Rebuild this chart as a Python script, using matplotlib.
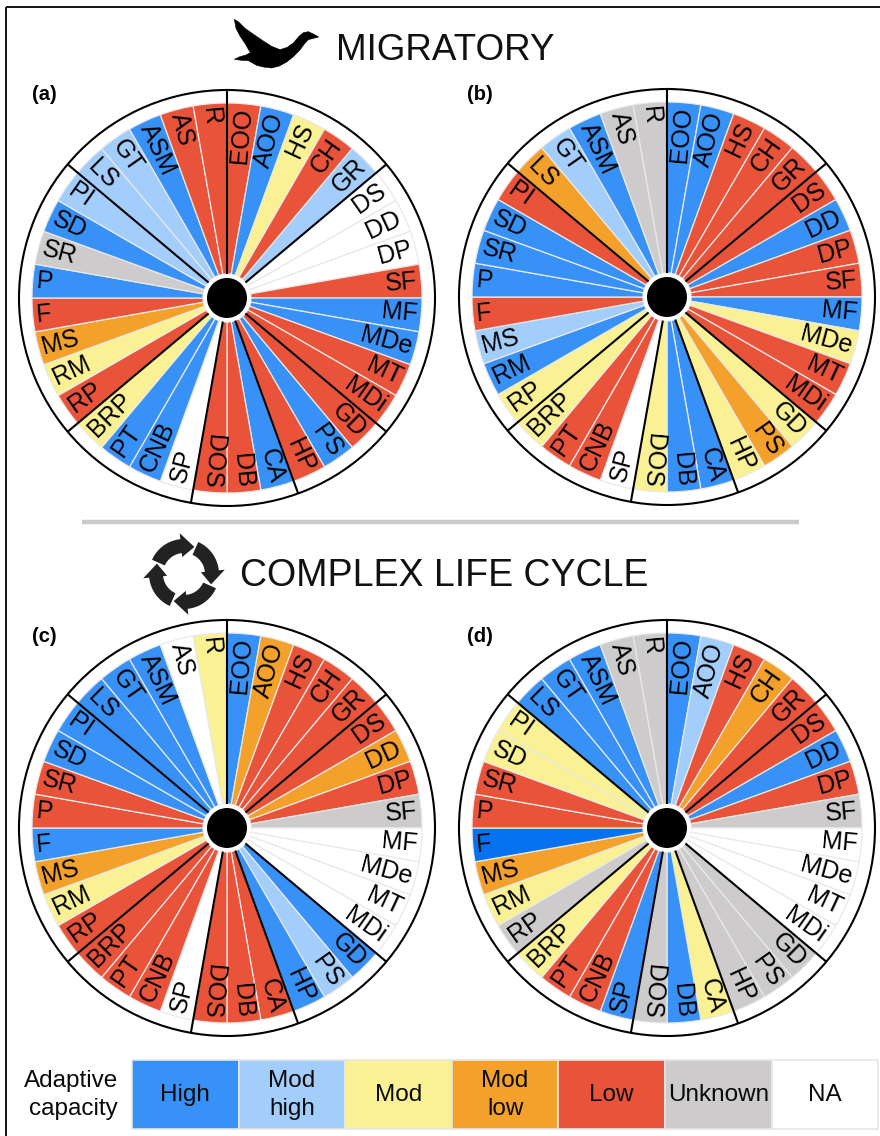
import numpy as np
import matplotlib
matplotlib.use("Agg")
import matplotlib.pyplot as plt
from matplotlib.patches import Polygon, Rectangle

plt.rcParams['font.family'] = ['Liberation Sans', 'DejaVu Sans']

W, H = 880, 1136

sectors = ["EOO", "AOO", "HS", "CH", "GR", "DS", "DD", "DP", "SF", "MF", "MDe", "MT",
           "MDi", "GD", "PS", "HP", "CA", "DB", "DOS", "SP", "CNB", "PT", "BRP", "RP",
           "RM", "MS", "F", "P", "SR", "SD", "PI", "LS", "GT", "ASM", "AS", "R"]

panel_a = ["L", "H", "M", "L", "MH", "NA", "NA", "NA", "L", "H", "H", "L",
           "L", "L", "H", "L", "H", "L", "L", "NA", "H", "H", "M", "L",
           "M", "ML", "L", "H", "U", "H", "MH", "MH", "MH", "H", "L", "L"]
panel_b = ["H", "H", "L", "L", "L", "L", "H", "L", "L", "H", "M", "L",
           "L", "M", "ML", "M", "H", "H", "M", "NA", "L", "L", "M", "M",
           "H", "MH", "L", "H", "H", "H", "L", "ML", "MH", "H", "U", "U"]
panel_c = ["H", "ML", "L", "L", "L", "L", "ML", "L", "U", "NA", "NA", "NA",
           "NA", "H", "MH", "H", "L", "L", "L", "NA", "L", "L", "L", "L",
           "M", "ML", "H", "L", "L", "H", "H", "H", "H", "H", "NA", "M"]
panel_d = ["H", "MH", "L", "ML", "L", "L", "H", "L", "U", "NA", "NA", "NA",
           "NA", "U", "U", "U", "M", "H", "U", "H", "L", "L", "M", "U",
           "M", "ML", "H2", "L", "L", "M", "M", "H", "H", "H", "U", "U"]

colors = {"H": "#3791f7", "H2": "#0672f2", "MH": "#a3cdfb", "M": "#f9f193",
          "ML": "#f3a12b", "L": "#e9533a", "U": "#cdcbcc", "NA": "#ffffff"}

group_edges_deg = [0, 50, 130, 160, 190, 230, 310]

legend_keys = ["H", "MH", "M", "ML", "L", "U", "NA"]
legend_labels = ["High", "Mod\nhigh", "Mod", "Mod\nlow", "Low", "Unknown", "NA"]

panels = [("(a)", panel_a, 227, 298, 32, 95),
          ("(b)", panel_b, 667, 297, 467, 95),
          ("(c)", panel_c, 227, 828, 32, 636),
          ("(d)", panel_d, 667, 828, 467, 636)]

R_RING, R_WEDGE, R_IN, R_HUB, R_TEXT = 208, 195, 24, 20, 191

fig = plt.figure(figsize=(W / 100, H / 100), dpi=100, facecolor="white")

# page canvas in pixel coordinates
bg = fig.add_axes([0, 0, 1, 1])
bg.set_xlim(0, W)
bg.set_ylim(H, 0)
bg.axis("off")

bg.plot([6, 6], [7, H], color="black", lw=1.3, solid_capstyle="butt")
bg.plot([6, W], [7, 7], color="black", lw=1.3, solid_capstyle="butt")
bg.plot([82, 799], [521.5, 521.5], color="#c9c9c9", lw=3.2, solid_capstyle="butt")

# bird icon
bird = np.array([(703, 58), (716, 66), (735, 85), (765, 106), (790, 123), (815, 139), (840, 149),
                 (862, 142), (880, 129), (897, 109), (910, 98), (925, 95), (940, 102), (956, 111),
                 (925, 119), (912, 133), (900, 150), (880, 170), (860, 186), (838, 198), (815, 204),
                 (790, 201), (770, 196), (745, 182), (725, 181), (703, 178), (720, 170), (738, 165),
                 (751, 158), (736, 132), (720, 108), (708, 85)]) / 3.0
bg.add_patch(Polygon(bird, closed=True, fc="black", ec="black", lw=0.4))

# cycle icon: four clockwise arrows
cx0, cy0 = 184, 574
def clock(r, t):
    t = np.radians(t)
    return cx0 + r * np.sin(t), cy0 - r * np.cos(t)
for off in [0, 90, 180, 270]:
    a = np.linspace(-66, -6, 20) + off
    outer = [clock(35, t) for t in a]
    inner = [clock(21, t) for t in a[::-1]]
    head = [clock(41, -6 + off), clock(29, 21 + off), clock(17, -6 + off)]
    bg.add_patch(Polygon(outer + head + inner, closed=True, fc="#222222", ec="none"))

bg.text(336, 50, "MIGRATORY", fontsize=26.5, ha="left", va="center", color="#111111")
bg.text(240, 576, "COMPLEX LIFE CYCLE", fontsize=27, ha="left", va="center", color="#111111")

for name, _, _, _, lx, ly in panels:
    bg.text(lx, ly, name, fontsize=14.5, fontweight="bold", ha="left", va="center")

# wheels
width = np.radians(10)
for name, vals, cx, cy, _, _ in panels:
    ax = fig.add_axes([(cx - R_RING) / W, 1 - (cy + R_RING) / H, 2 * R_RING / W, 2 * R_RING / H],
                      projection="polar")
    ax.set_theta_zero_location("N")
    ax.set_theta_direction(-1)
    ax.set_rlim(0, R_RING)
    ax.set_xticks([])
    ax.set_yticks([])
    ax.grid(False)
    ax.patch.set_alpha(0)
    ax.spines["polar"].set_linewidth(1.5)
    ax.spines["polar"].set_color("black")

    centers = np.radians(np.arange(len(sectors)) * 10 + 5)
    ax.bar(centers, R_WEDGE - R_IN, width=width, bottom=R_IN,
           color=[colors[v] for v in vals], edgecolor="#e9e9e9", linewidth=0.9, zorder=2)
    for d in group_edges_deg:
        ax.plot([np.radians(d)] * 2, [R_HUB, R_RING], color="black", lw=1.5, zorder=3,
                solid_capstyle="butt")
    ax.bar(0, R_IN, width=2 * np.pi, bottom=0, color="white", edgecolor="none", zorder=4)
    ax.bar(0, R_HUB, width=2 * np.pi, bottom=0, color="black", edgecolor="none", zorder=5)
    ax.set_rlim(0, R_RING)

    for lab, th in zip(sectors, np.arange(len(sectors)) * 10 + 5):
        if th < 190:
            rot, ha = 90 - th, "right"
        else:
            rot, ha = 270 - th, "left"
        ax.text(np.radians(th), R_TEXT, lab, rotation=rot, rotation_mode="anchor",
                ha=ha, va="center", fontsize=18, color="black", zorder=6)

# legend
x_edges = [132, 238.6, 345.2, 451.8, 558.4, 665, 771.6, 878]
for i, (k, lab) in enumerate(zip(legend_keys, legend_labels)):
    bg.add_patch(Rectangle((x_edges[i], 1060), x_edges[i + 1] - x_edges[i], 69,
                           fc=colors[k], ec="#e6e6e6", lw=1.2))
    bg.text((x_edges[i] + x_edges[i + 1]) / 2, 1095, lab, ha="center", va="center",
            fontsize=17.5, linespacing=1.4, color="#0a0a0a")
bg.text(118, 1095, "Adaptive\ncapacity", ha="right", va="center", fontsize=17.5,
        linespacing=1.4, color="#0a0a0a", multialignment="right")

fig.savefig("out.png", dpi=100)
